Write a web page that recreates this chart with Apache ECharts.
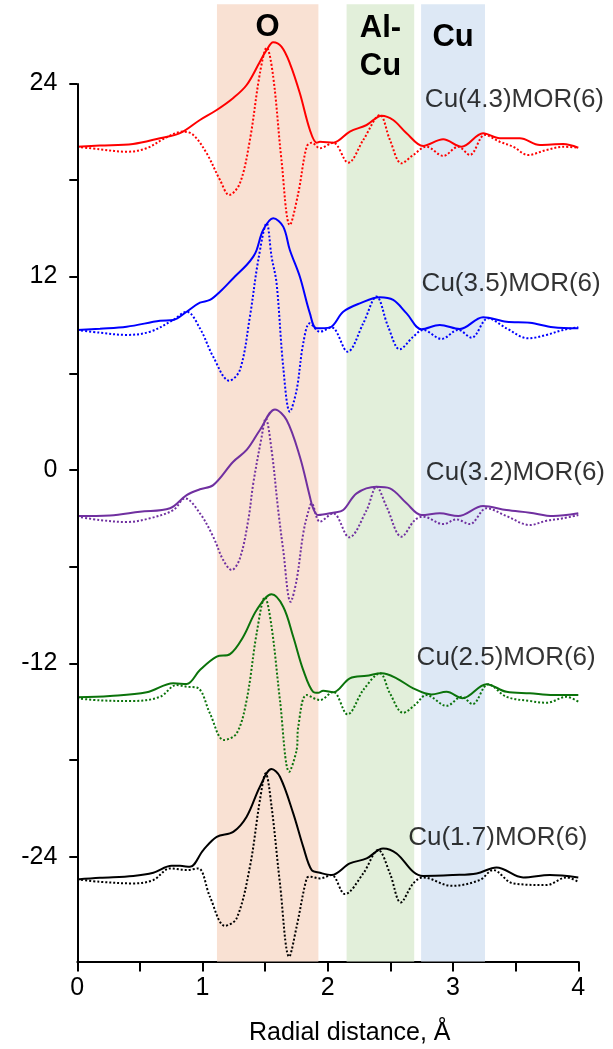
<!DOCTYPE html>
<html>
<head>
<meta charset="utf-8">
<script src="https://cdn.jsdelivr.net/npm/echarts@6/dist/echarts.min.js"></script>
<style>
  html, body { margin: 0; padding: 0; background: #fff; }
  #chart { width: 613px; height: 1049px; }
</style>
</head>
<body>
<div id="chart"></div>
<script>
// Fourier-transformed EXAFS of Cu-exchanged mordenite samples, stacked with offsets.
// Solid lines: magnitude |FT|; dotted lines: imaginary part. Pairs are [R (Å), value].

const redAbs = [[0,20.06],[0.181,20.13],[0.445,20.23],[0.66,20.59],[0.82,20.90],[0.979,21.72],[1.113,22.34],[1.243,23.07],[1.352,23.89],[1.458,25.34],[1.512,26.07],[1.564,26.55],[1.63,26.27],[1.697,25.24],[1.777,23.38],[1.857,21.10],[1.911,20.31],[1.937,20.37],[2.043,20.31],[2.176,21.0],[2.31,21.41],[2.43,21.99],[2.522,21.72],[2.629,20.90],[2.761,20.11],[2.921,20.52],[3.068,20.06],[3.24,20.90],[3.373,20.59],[3.533,20.59],[3.693,20.17],[3.879,20.23],[4.0,20.0]];
const redIm = [[0,20.06],[0.181,19.90],[0.394,19.75],[0.554,19.97],[0.713,20.65],[0.846,21.0],[0.926,20.79],[1.033,19.65],[1.139,18.0],[1.213,17.07],[1.298,17.79],[1.378,20.48],[1.458,24.62],[1.512,26.21],[1.564,24.41],[1.63,19.24],[1.697,15.2],[1.764,17.17],[1.831,20.06],[1.871,20.31],[1.937,19.97],[2.043,20.31],[2.163,19.07],[2.283,20.48],[2.416,22.03],[2.496,20.48],[2.589,19.03],[2.682,19.55],[2.788,20.06],[2.921,19.49],[3.041,20.06],[3.134,19.55],[3.254,20.79],[3.373,20.37],[3.48,20.06],[3.599,19.55],[3.746,19.86],[3.879,20.06],[4.0,20.0]];

const blueAbs = [[0,8.69],[0.181,8.77],[0.394,8.89],[0.66,9.26],[0.766,9.31],[0.873,9.82],[0.979,10.38],[1.059,10.55],[1.139,11.06],[1.245,11.90],[1.352,12.72],[1.405,13.24],[1.432,13.65],[1.484,14.89],[1.564,15.62],[1.644,15.1],[1.697,13.65],[1.777,11.99],[1.857,9.72],[1.911,8.79],[2.017,8.85],[2.123,9.82],[2.256,10.34],[2.416,10.72],[2.522,10.55],[2.629,9.72],[2.749,8.73],[2.894,9.0],[3.054,8.75],[3.240,9.48],[3.427,9.20],[3.613,9.14],[3.799,8.85],[4.0,8.79]];
const blueIm = [[0,8.69],[0.181,8.52],[0.394,8.38],[0.58,8.58],[0.766,9.31],[0.873,9.82],[0.979,8.79],[1.085,7.03],[1.213,5.54],[1.298,6.2],[1.378,9.51],[1.445,13.03],[1.512,15.31],[1.551,13.24],[1.591,11.59],[1.644,6.41],[1.697,3.62],[1.751,4.96],[1.804,7.86],[1.857,9.10],[1.937,8.58],[2.03,8.85],[2.158,7.34],[2.283,9.10],[2.389,10.76],[2.482,8.89],[2.575,7.49],[2.682,8.27],[2.761,8.69],[2.908,8.13],[3.041,8.69],[3.148,8.21],[3.280,9.41],[3.427,8.79],[3.599,8.17],[3.746,8.38],[3.879,8.69],[4.0,8.85]];

const purpleAbs = [[0,-2.86],[0.261,-2.82],[0.5,-2.59],[0.74,-2.38],[0.873,-1.56],[0.979,-1.20],[1.085,-0.94],[1.245,0.51],[1.352,1.24],[1.458,2.48],[1.578,3.76],[1.671,3.1],[1.777,0.82],[1.857,-1.66],[1.883,-2.38],[1.923,-2.80],[2.043,-2.65],[2.123,-2.49],[2.230,-1.45],[2.389,-1.04],[2.496,-1.14],[2.629,-2.07],[2.749,-2.80],[2.894,-2.69],[3.041,-2.86],[3.240,-2.24],[3.427,-2.49],[3.613,-2.65],[3.799,-2.86],[4.0,-2.69]];
const purpleIm = [[0,-2.9],[0.181,-3.11],[0.394,-3.23],[0.58,-3.0],[0.766,-2.49],[0.860,-1.76],[0.979,-2.69],[1.085,-4.14],[1.165,-5.59],[1.232,-6.21],[1.298,-5.49],[1.365,-3.11],[1.405,-0.83],[1.472,2.06],[1.504,3.2],[1.551,1.24],[1.604,-2.49],[1.644,-4.97],[1.703,-8.18],[1.751,-6.83],[1.804,-3.93],[1.844,-2.59],[1.871,-2.07],[1.937,-3.21],[2.043,-2.69],[2.171,-4.18],[2.310,-2.49],[2.389,-1.04],[2.469,-2.28],[2.589,-4.14],[2.695,-3.11],[2.761,-2.9],[2.921,-3.36],[3.028,-3.07],[3.134,-3.36],[3.267,-2.38],[3.427,-2.86],[3.613,-3.42],[3.746,-3.15],[3.879,-3.0],[4.0,-2.80]];

const greenAbs = [[0,-14.11],[0.261,-14.03],[0.554,-13.80],[0.766,-13.24],[0.873,-13.29],[0.979,-12.42],[1.113,-11.59],[1.219,-11.43],[1.325,-10.35],[1.432,-8.69],[1.551,-7.72],[1.644,-8.49],[1.724,-10.35],[1.804,-12.42],[1.883,-13.77],[1.923,-13.83],[1.963,-13.70],[2.043,-13.80],[2.176,-12.93],[2.310,-12.77],[2.430,-12.62],[2.549,-12.93],[2.682,-13.55],[2.828,-13.93],[2.948,-13.77],[3.076,-14.17],[3.267,-13.30],[3.427,-13.77],[3.613,-13.86],[3.799,-13.97],[4.0,-13.97]];
const greenIm = [[0,-14.17],[0.181,-14.30],[0.447,-14.34],[0.66,-14.08],[0.793,-13.35],[0.873,-13.45],[0.966,-13.55],[1.059,-15.11],[1.171,-16.76],[1.272,-16.35],[1.352,-14.28],[1.432,-10.14],[1.498,-7.9],[1.551,-9.73],[1.618,-14.28],[1.692,-18.73],[1.751,-17.38],[1.764,-15.94],[1.831,-13.97],[1.937,-14.28],[2.043,-13.77],[2.158,-15.17],[2.283,-13.66],[2.416,-12.62],[2.496,-13.86],[2.602,-15.07],[2.695,-14.59],[2.788,-13.97],[2.948,-14.64],[3.068,-14.08],[3.156,-14.53],[3.280,-13.30],[3.427,-14.08],[3.613,-14.34],[3.746,-14.45],[3.906,-14.08],[4.0,-14.38]];

const blackAbs = [[0,-25.41],[0.181,-25.31],[0.447,-25.20],[0.607,-25.0],[0.753,-24.57],[0.820,-24.57],[0.899,-24.63],[1.006,-23.59],[1.113,-22.77],[1.245,-22.46],[1.352,-21.52],[1.458,-19.66],[1.551,-18.56],[1.618,-19.04],[1.724,-21.31],[1.804,-23.39],[1.871,-24.83],[1.937,-25.0],[2.030,-25.14],[2.176,-24.42],[2.310,-24.11],[2.442,-23.49],[2.549,-23.80],[2.682,-24.94],[2.761,-25.20],[3.001,-25.14],[3.188,-25.04],[3.347,-24.67],[3.560,-25.29],[3.773,-25.14],[4.0,-25.29]];
const blackIm = [[0,-25.41],[0.181,-25.56],[0.447,-25.66],[0.607,-25.45],[0.740,-24.73],[0.873,-24.83],[0.966,-24.73],[1.059,-26.49],[1.179,-28.29],[1.272,-27.83],[1.378,-24.63],[1.458,-20.49],[1.504,-18.83],[1.551,-20.90],[1.618,-25.66],[1.692,-30.21],[1.751,-28.35],[1.831,-25.35],[1.857,-25.24],[1.937,-25.35],[2.030,-25.14],[2.136,-26.32],[2.283,-25.04],[2.402,-23.59],[2.496,-25.04],[2.583,-26.84],[2.682,-25.66],[2.761,-25.29],[2.988,-25.81],[3.214,-25.45],[3.320,-24.83],[3.480,-25.66],[3.746,-25.76],[3.906,-25.29],[4.0,-25.56]];

const sampleNames = ['Cu(4.3)MOR(6)', 'Cu(3.5)MOR(6)', 'Cu(3.2)MOR(6)', 'Cu(2.5)MOR(6)', 'Cu(1.7)MOR(6)'];

// Shells: [from, to] in Å
const shellO = [1.115, 1.925];
const shellAlCu = [2.15, 2.69];
const shellCu = [2.745, 3.255];

const yTicks = [-24, -18, -12, -6, 0, 6, 12, 18, 24];
const yTickLabels = [-24, -12, 0, 12, 24];
const xTickLabels = [0, 1, 2, 3, 4];

const FONT = '"Liberation Sans", Arial, Helvetica, sans-serif';
const Y_MIN = -30.5, Y_MAX = 28.9;

const curves = [
  { abs: redAbs, im: redIm, color: '#ff0000' },
  { abs: blueAbs, im: blueIm, color: '#0000ff' },
  { abs: purpleAbs, im: purpleIm, color: '#7030a0' },
  { abs: greenAbs, im: greenIm, color: '#0b730b' },
  { abs: blackAbs, im: blackIm, color: '#000000' }
];

// where each sample name sits (left edge, vertical middle), in data units
const labelAnchors = [[2.775, 22.95], [2.749, 11.56], [2.783, -0.19], [2.709, -11.67], [2.642, -22.85]];

const series = [];

// shaded shell regions and the y-axis spine
series.push({
  type: 'line',
  data: [],
  z: 0,
  silent: true,
  markArea: {
    silent: true,
    label: { fontFamily: FONT, fontWeight: 'bold', fontSize: 31, color: '#000', position: 'insideTop', lineHeight: 38 },
    data: [
      [{ xAxis: shellO[0], itemStyle: { color: '#f9e1d3' }, name: 'O', label: { distance: 4 } }, { xAxis: shellO[1] }],
      [{ xAxis: shellAlCu[0], itemStyle: { color: '#e2efda' }, name: 'Al-\nCu', label: { distance: 5 } }, { xAxis: shellAlCu[1] }],
      [{ xAxis: shellCu[0], itemStyle: { color: '#dde8f5' }, name: 'Cu', label: { distance: 14 } }, { xAxis: shellCu[1] }]
    ]
  },
  markLine: {
    silent: true,
    symbol: 'none',
    label: { show: false },
    lineStyle: { color: '#000', width: 2, type: 'solid' },
    data: [[{ coord: [0, Y_MIN] }, { coord: [0, 24] }]]
  }
});

curves.forEach((c) => {
  series.push({
    type: 'line',
    data: c.im,
    smooth: 0.35,
    showSymbol: false,
    z: 3,
    lineStyle: { color: c.color, width: 2, type: [2, 2] }
  });
  series.push({
    type: 'line',
    data: c.abs,
    smooth: 0.35,
    showSymbol: false,
    z: 4,
    lineStyle: { color: c.color, width: 2 }
  });
});

series.push({
  type: 'scatter',
  symbolSize: 0,
  z: 5,
  itemStyle: { color: 'transparent' },
  data: labelAnchors.map((p, i) => [p[0], p[1], sampleNames[i]]),
  label: {
    show: true,
    position: 'right',
    distance: 0,
    formatter: (p) => p.value[2],
    fontFamily: FONT,
    fontSize: 26,
    color: '#000'
  }
});

const chart = echarts.init(document.getElementById('chart'), null, { renderer: 'canvas' });
chart.setOption({
  animation: false,
  backgroundColor: '#ffffff',
  title: {
    text: 'Radial distance, Å',
    left: 249,
    top: 1021,
    padding: 0,
    textStyle: { fontFamily: FONT, fontSize: 25, fontWeight: 'normal', color: '#000' }
  },
  grid: { left: 77.3, right: 34.7, top: 4.3, bottom: 87.6, containLabel: false },
  xAxis: {
    type: 'value',
    min: 0,
    max: 4,
    interval: 0.5,
    axisLine: { show: true, onZero: false, lineStyle: { color: '#000', width: 2 } },
    axisTick: { show: true, inside: false, length: 10, lineStyle: { color: '#000', width: 2 } },
    axisLabel: {
      customValues: xTickLabels,
      margin: 14,
      fontFamily: FONT,
      fontSize: 25,
      color: '#000'
    },
    splitLine: { show: false }
  },
  yAxis: {
    type: 'value',
    min: Y_MIN,
    max: Y_MAX,
    axisLine: { show: false },
    axisTick: { show: true, inside: false, length: 8, customValues: yTicks, lineStyle: { color: '#000', width: 2 } },
    axisLabel: {
      customValues: yTickLabels,
      margin: 20,
      fontFamily: FONT,
      fontSize: 25,
      color: '#000'
    },
    splitLine: { show: false }
  },
  series: series
});
</script>
</body>
</html>
